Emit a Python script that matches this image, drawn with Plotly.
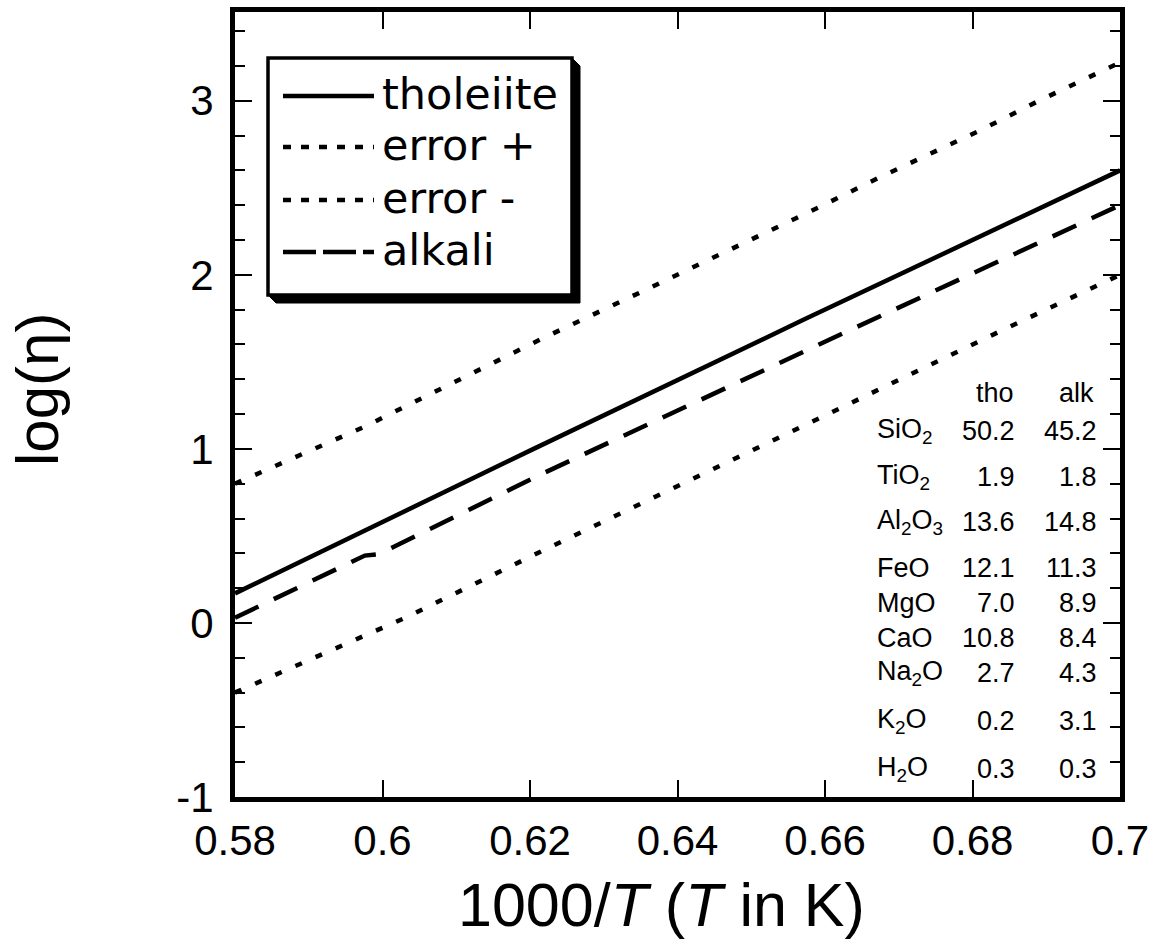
import plotly.graph_objects as go

# ---------------- data ----------------
x_thol = [0.58, 0.62, 0.657, 0.70]
y_thol = [0.17, 0.99, 1.74, 2.60]

x_errp = [0.58, 0.5976, 0.6030, 0.6219, 0.6354, 0.6461, 0.6596, 0.6675, 0.6810, 0.6890, 0.70]
y_errp = [0.80, 1.128, 1.242, 1.639, 1.908, 2.122, 2.397, 2.562, 2.829, 3.00, 3.22]

x_errm = [0.58, 0.5976, 0.6030, 0.6219, 0.6354, 0.6461, 0.6596, 0.6836, 0.6890, 0.70]
y_errm = [-0.40, -0.075, 0.028, 0.419, 0.695, 0.909, 1.184, 1.673, 1.781, 2.00]

x_alk = [0.58, 0.5976, 0.5995, 0.6219, 0.6626, 0.70]
y_alk = [0.03, 0.387, 0.395, 0.862, 1.667, 2.40]

x_ticks = [0.58, 0.60, 0.62, 0.64, 0.66, 0.68, 0.70]
x_ticktext = ["0.58", "0.6", "0.62", "0.64", "0.66", "0.68", "0.7"]
y_ticks = [-1, 0, 1, 2, 3]
y_ticktext = ["-1", "0", "1", "2", "3"]

oxides = ["SiO<sub>2</sub>", "TiO<sub>2</sub>", "Al<sub>2</sub>O<sub>3</sub>", "FeO", "MgO",
          "CaO", "Na<sub>2</sub>O", "K<sub>2</sub>O", "H<sub>2</sub>O"]
tho_vals = ["50.2", "1.9", "13.6", "12.1", "7.0", "10.8", "2.7", "0.2", "0.3"]
alk_vals = ["45.2", "1.8", "14.8", "11.3", "8.9", "8.4", "4.3", "3.1", "0.3"]

legend_names = ["tholeiite", "error +", "error -", "alkali"]

# ---------------- layout geometry (pixels) ----------------
W, H = 1166, 945
L, R, T, B = 235, 1120, 12, 797
PW, PH = R - L, B - T


def px(x):
    return (x - L) / PW


def py(y):
    return (B - y) / PH


FONT = "Liberation Sans, Arial, sans-serif"
LFONT = "DejaVu Sans, Liberation Sans, sans-serif"

fig = go.Figure()
fig.add_trace(go.Scatter(x=x_thol, y=y_thol, mode="lines", name=legend_names[0],
                         line=dict(color="black", width=4.5), showlegend=False))
fig.add_trace(go.Scatter(x=x_errp, y=y_errp, mode="lines", name=legend_names[1],
                         line=dict(color="black", width=4.5, dash="7px,15px"), showlegend=False))
fig.add_trace(go.Scatter(x=x_errm, y=y_errm, mode="lines", name=legend_names[2],
                         line=dict(color="black", width=4.5, dash="7px,15px"), showlegend=False))
fig.add_trace(go.Scatter(x=x_alk, y=y_alk, mode="lines", name=legend_names[3],
                         line=dict(color="black", width=4.5, dash="26px,17px"), showlegend=False))

shapes = []
annotations = []

# legend box with bevelled drop shadow
bx0, by0, bx1, by1 = 268, 58, 572, 295
sh = 8
path = (f"M {px(bx1)},{py(by0)} L {px(bx1 + sh)},{py(by0 + sh)} L {px(bx1 + sh)},{py(by1 + sh)} "
        f"L {px(bx0 + sh)},{py(by1 + sh)} L {px(bx0)},{py(by1)} Z")
shapes.append(dict(type="path", xref="paper", yref="paper", path=path,
                   fillcolor="black", line=dict(color="black", width=1), layer="above"))
shapes.append(dict(type="rect", xref="paper", yref="paper", x0=px(bx0), x1=px(bx1),
                   y0=py(by1), y1=py(by0), fillcolor="white",
                   line=dict(color="black", width=3.5), layer="above"))

leg_rows = [96, 147, 200, 252]
leg_dash = ["solid", "8px,10px", "8px,10px", "33px,7px"]
for name, yy, dsh in zip(legend_names, leg_rows, leg_dash):
    shapes.append(dict(type="line", xref="paper", yref="paper", x0=px(283), x1=px(374),
                       y0=py(yy), y1=py(yy), line=dict(color="black", width=4.5, dash=dsh),
                       layer="above"))
    annotations.append(dict(text=name, xref="paper", yref="paper", x=px(380), y=py(yy - 2),
                            xanchor="left", yanchor="middle", showarrow=False,
                            font=dict(family=LFONT, size=43, color="black")))

# composition table
tfont = dict(family=FONT, size=27, color="black")
annotations.append(dict(text="tho", xref="paper", yref="paper", x=px(1016), y=py(393),
                        xanchor="right", yanchor="middle", showarrow=False, font=tfont))
annotations.append(dict(text="alk", xref="paper", yref="paper", x=px(1096), y=py(393),
                        xanchor="right", yanchor="middle", showarrow=False, font=tfont))
row_y = [431, 477, 522, 568, 603, 638, 673, 721, 769]
for ox, tv, av, yy in zip(oxides, tho_vals, alk_vals, row_y):
    annotations.append(dict(text=ox, xref="paper", yref="paper", x=px(875), y=py(yy),
                            xanchor="left", yanchor="middle", showarrow=False, font=tfont))
    annotations.append(dict(text=tv, xref="paper", yref="paper", x=px(1017), y=py(yy),
                            xanchor="right", yanchor="middle", showarrow=False, font=tfont))
    annotations.append(dict(text=av, xref="paper", yref="paper", x=px(1099), y=py(yy),
                            xanchor="right", yanchor="middle", showarrow=False, font=tfont))

# axis titles
annotations.append(dict(text="1000/<i>T</i> (<i>T</i> in K)", xref="paper", yref="paper",
                        x=px(661), y=py(905), xanchor="center", yanchor="middle",
                        showarrow=False, font=dict(family=FONT, size=61, color="black")))
annotations.append(dict(text="log(η)", xref="paper", yref="paper", x=px(37), y=py(390),
                        xanchor="center", yanchor="middle", textangle=-90,
                        showarrow=False, font=dict(family=FONT, size=60, color="black")))

axis_common = dict(showline=True, linecolor="black", linewidth=5, mirror="allticks",
                   ticks="inside", tickcolor="black", tickwidth=2, ticklen=17,
                   showgrid=False, zeroline=False,
                   tickfont=dict(family=FONT, size=42, color="black"))

fig.update_layout(
    width=W, height=H,
    margin=dict(l=L, r=W - R, t=T, b=H - B, autoexpand=False),
    paper_bgcolor="white", plot_bgcolor="white",
    showlegend=False,
    xaxis=dict(range=[0.58, 0.70], tickmode="array", tickvals=x_ticks, ticktext=x_ticktext,
               ticklabelstandoff=3, **axis_common),
    yaxis=dict(range=[-1, 3.51], tickmode="array", tickvals=y_ticks, ticktext=y_ticktext,
               minor=dict(dtick=0.2, tick0=0, ticks="inside", ticklen=10, tickwidth=2,
                          tickcolor="black", showgrid=False),
               ticklabelstandoff=8, **axis_common),
    shapes=shapes,
    annotations=annotations,
)

fig.write_html("out.html", config={"displayModeBar": False},
               post_script="document.body.style.margin='0px';")
